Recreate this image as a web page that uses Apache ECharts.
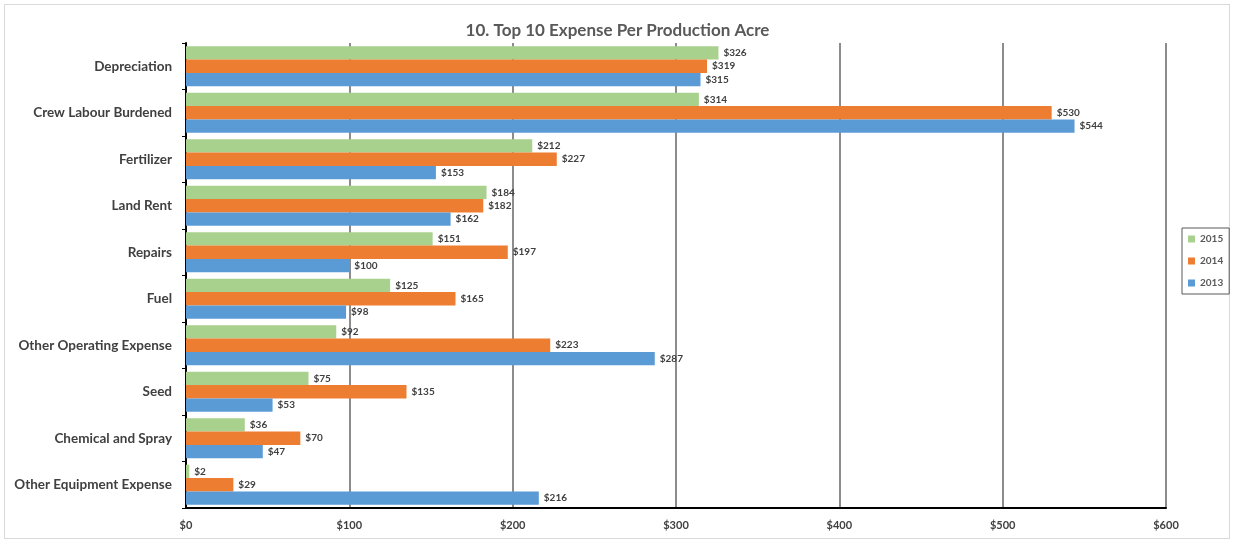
<!DOCTYPE html>
<html>
<head>
<meta charset="utf-8">
<script src="https://cdn.jsdelivr.net/npm/echarts@6/dist/echarts.min.js"></script>
<style>
html,body{margin:0;padding:0;background:#fff;}
#frame{position:absolute;left:4px;top:4px;width:1226px;height:535px;border:1px solid #d9d9d9;box-sizing:border-box;}
#c{position:absolute;left:0;top:0;width:1235px;height:544px;}
</style>
</head>
<body>
<div id="frame"></div>
<div id="c"></div>
<script>
const title = "10. Top 10 Expense Per Production Acre";
const categories = ["Depreciation","Crew Labour Burdened","Fertilizer","Land Rent","Repairs","Fuel","Other Operating Expense","Seed","Chemical and Spray","Other Equipment Expense"];
const seriesNames = ["2015","2014","2013"];
const values2015 = [326,314,212,184,151,125,92,75,36,2];
const values2014 = [319,530,227,182,197,165,223,135,70,29];
const values2013 = [315,544,153,162,100,98,287,53,47,216];
const colors = ["#a9d18e","#ed7d31","#5b9bd5"];
const xTicks = [0,100,200,300,400,500,600];

const font = "Lato, 'Open Sans', sans-serif";
const chart = echarts.init(document.getElementById('c'));
const allValues = [values2015, values2014, values2013];
chart.setOption({
  animation:false,
  title:{text:title,left:'center',top:17,textStyle:{fontFamily:font,fontSize:17,fontWeight:'bold',color:'#595959'}},
  legend:{orient:'vertical',left:1182,top:228,data:seriesNames,itemWidth:7,itemHeight:7,itemGap:12,
    padding:[6,6,6,6],borderColor:'#595959',borderWidth:1,icon:'rect',
    textStyle:{fontFamily:font,fontSize:10,fontWeight:'bold',color:'#595959'}},
  grid:{left:186,right:69,top:43,bottom:36},
  xAxis:{type:'value',min:xTicks[0],max:xTicks[xTicks.length-1],interval:100,
    axisLine:{show:true,lineStyle:{color:'#000',width:2}},
    axisTick:{show:false},
    splitLine:{show:true,lineStyle:{color:'#8c8c8c',width:2}},
    axisLabel:{margin:12,fontFamily:font,fontSize:11,fontWeight:'bold',color:'#404040',formatter:v=>'$'+v}},
  yAxis:{type:'category',inverse:true,data:categories,
    axisLine:{show:true,lineStyle:{color:'#000',width:2}},
    axisTick:{show:true,length:4,lineStyle:{color:'#000'}},
    axisLabel:{margin:14,fontFamily:font,fontSize:13.5,fontWeight:'bold',color:'#404040'}},
  series: seriesNames.map((n,i)=>({
    name:n,type:'bar',data:allValues[i],barGap:'0%',barCategoryGap:'14%',
    itemStyle:{color:colors[i]},
    label:{show:true,position:'right',distance:5,fontFamily:font,fontSize:10,fontWeight:'bold',color:'#404040',formatter:p=>'$'+p.value}
  }))
});
</script>
</body>
</html>
